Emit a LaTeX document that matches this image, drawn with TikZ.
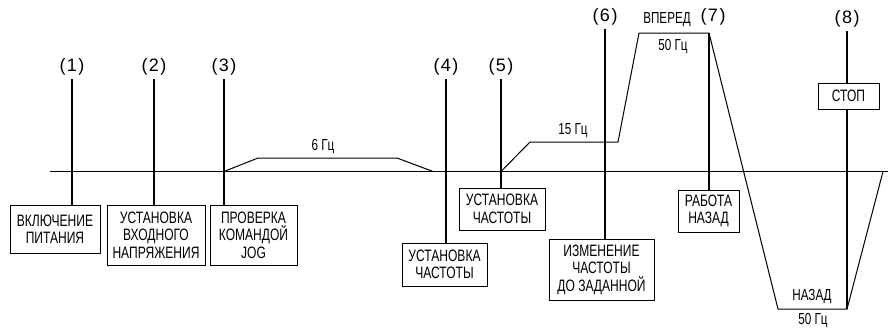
\documentclass[tikz,border=0pt]{standalone}
\usepackage{fontspec}
\setmainfont{Liberation Sans}
\newfontfamily\narrowfont{Liberation Sans}[FakeStretch=0.73]
\usetikzlibrary{positioning}
\newcommand\stepno[1]{(\kern1.5pt#1\kern1.5pt)}
\tikzset{
    axisline/.style={line width=1.1pt,draw=black},
    wave/.style={line width=1pt,draw=black,line join=miter},
    stepline/.style={line width=1.3pt,draw=black},
    stepbox/.style={draw=black,line width=1pt,align=center,inner sep=0pt,font=\narrowfont\fontsize{16.5}{17.5}\selectfont},
    stepnum/.style={inner xsep=0pt,inner ysep=3.5pt,font=\fontsize{18}{20}\selectfont},
    freq/.style={inner sep=0pt,font=\narrowfont\fontsize{16}{18}\selectfont}
}
\begin{document}
\begin{tikzpicture}[x=1pt,y=-1pt]
  \useasboundingbox (0,0) rectangle (888,327);
  % time axis
  \coordinate (ax0) at (50,171.5);
  \coordinate (ax1) at (888,171.5);
  \draw[axisline] (ax0)--(ax1);
  % jog run
  \coordinate (j0) at (224,171.5);
  \coordinate (j1) at (258,158);
  \coordinate (j2) at (397,158);
  \coordinate (j3) at (433,171.5);
  \draw[wave] (j0)--(j1)--(j2)--(j3);
  % forward / reverse run
  \coordinate (w0) at (501,171.5);
  \coordinate (w1) at (530,142);
  \coordinate (w2) at (618,142);
  \coordinate (w3) at (639,33);
  \coordinate (w4) at (709,33);
  \coordinate (w5) at (778,309);
  \coordinate (w6) at (847,309);
  \coordinate (w7) at (883,171.5);
  \draw[wave] (w0)--(w1)--(w2)--(w3)--(w4)--(w5)--(w6)--(w7);
  % step numbers
  \node[stepnum] (n1) at (72,67) {\stepno{1}};
  \node[stepnum] (n2) at (154,67) {\stepno{2}};
  \node[stepnum] (n3) at (224,67) {\stepno{3}};
  \node[stepnum] (n4) at (446,67) {\stepno{4}};
  \node[stepnum] (n5) at (501,67) {\stepno{5}};
  \node[stepnum] (n6) at (605,17) {\stepno{6}};
  \node[stepnum] (n7) at (713,17) {\stepno{7}};
  \node[stepnum] (n8) at (847,19) {\stepno{8}};
  % step boxes
  \node[stepbox,minimum width=90pt,minimum height=48pt] (b1) at (55,229) {ВКЛЮЧЕНИЕ\\ПИТАНИЯ};
  \node[stepbox,minimum width=98pt,minimum height=60pt] (b2) at (156,235) {УСТАНОВКА\\ВХОДНОГО\\НАПРЯЖЕНИЯ};
  \node[stepbox,minimum width=87pt,minimum height=60pt] (b3) at (253.5,235) {ПРОВЕРКА\\КОМАНДОЙ\\JOG};
  \node[stepbox,minimum width=85pt,minimum height=43pt] (b4) at (444.5,264.5) {УСТАНОВКА\\ЧАСТОТЫ};
  \node[stepbox,minimum width=86pt,minimum height=42pt] (b5) at (502,209) {УСТАНОВКА\\ЧАСТОТЫ};
  \node[stepbox,minimum width=105pt,minimum height=61pt] (b6) at (601.5,269.5) {ИЗМЕНЕНИЕ\\ЧАСТОТЫ\\ДО ЗАДАННОЙ};
  \node[stepbox,minimum width=61pt,minimum height=42pt] (b7) at (708.5,211) {РАБОТА\\НАЗАД};
  \node[stepbox,minimum width=61pt,minimum height=26pt] (b8) at (848.5,96) {СТОП};
  % step lines
  \foreach \i in {1,...,6}{\draw[stepline] (n\i.south)--(b\i.north -| n\i);}
  \draw[stepline] (w4)--(b7.north -| w4);
  \draw[stepline] (n8.south)--(b8.north -| n8);
  \draw[stepline] (b8.south -| n8)--(w6);
  % frequency labels
  \node[freq] (f6) at (323,147) {6 Гц};
  \node[freq] (f15) at (573,131) {15 Гц};
  \node[freq] (fwd) at (667,20) {ВПЕРЕД};
  \node[freq] (f50a) at (673,47) {50 Гц};
  \node[freq] (rev) at (812,297) {НАЗАД};
  \node[freq] (f50b) at (813,321) {50 Гц};
\end{tikzpicture}
\end{document}
